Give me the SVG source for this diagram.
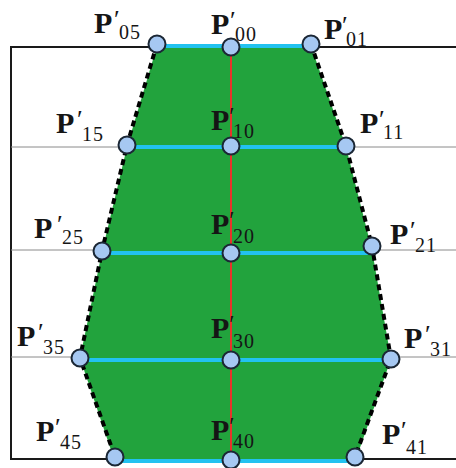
<svg xmlns="http://www.w3.org/2000/svg" width="456" height="468" viewBox="0 0 456 468">
<style>
.P{font-family:"Liberation Serif",serif;font-weight:bold;font-size:30px;fill:#151515}
.pr{font-family:"Liberation Serif",serif;font-size:26px;fill:#151515}
.sb{font-family:"Liberation Serif",serif;font-size:20px;letter-spacing:1px;fill:#151515}
.nd{fill:#a6c8f2;stroke:#1b2735;stroke-width:2}
.gr{stroke:#8a8a8a;stroke-width:1}
.bk{stroke:#1a1a1a;stroke-width:2}
.cy{stroke:#22c2f0;stroke-width:4}
.ds{stroke:#000;stroke-width:4;stroke-dasharray:6 4;fill:none}
</style>
<rect width="456" height="468" fill="#fff"/>
<g id="frame">
<line class="bk" x1="11" y1="47" x2="456" y2="47"/>
<line class="bk" x1="11" y1="459" x2="456" y2="459"/>
<line class="bk" x1="11" y1="46" x2="11" y2="460"/>
<line class="gr" x1="11" y1="147" x2="456" y2="147"/>
<line class="gr" x1="11" y1="250" x2="456" y2="250"/>
<line class="gr" x1="11" y1="357" x2="456" y2="357"/>
</g>
<polygon id="surface" points="157,46 311,46 346,147 372,250 391,359 355,462 115,462 80,358 102,252 127,147" fill="#22a33d"/>
<g id="connectors">
<line class="cy" x1="157" y1="46" x2="311" y2="46"/>
<line class="cy" x1="127" y1="147" x2="346" y2="147"/>
<line class="cy" x1="102" y1="253" x2="372" y2="253"/>
<line class="cy" x1="80" y1="360" x2="391" y2="360"/>
<line class="cy" x1="115" y1="461" x2="355" y2="461"/>
<line x1="231" y1="47" x2="231" y2="460" stroke="#e8332b" stroke-width="2"/>
<polyline class="ds" points="157,44 127,145 102,251 80,358 115,457"/>
<polyline class="ds" points="311,44 346,146 372,246 391,359 355,457"/>
</g>
<g id="P05"><circle class="nd" cx="157" cy="44" r="8.5"/><text class="P" x="94" y="33">P</text><text class="pr" x="114" y="28">′</text><text class="sb" x="119" y="39">05</text></g>
<g id="P00"><circle class="nd" cx="231" cy="47" r="8.5"/><text class="P" x="211" y="34">P</text><text class="pr" x="230" y="29">′</text><text class="sb" x="235" y="41">00</text></g>
<g id="P01"><circle class="nd" cx="311" cy="44" r="8.5"/><text class="P" x="324" y="39">P</text><text class="pr" x="342" y="34">′</text><text class="sb" x="346" y="46">01</text></g>
<g id="P15"><circle class="nd" cx="127" cy="145" r="8.5"/><text class="P" x="56" y="133">P</text><text class="pr" x="77" y="128">′</text><text class="sb" x="82" y="141">15</text></g>
<g id="P10"><circle class="nd" cx="231" cy="146" r="8.5"/><text class="P" x="211" y="130">P</text><text class="pr" x="229" y="125">′</text><text class="sb" x="233" y="138">10</text></g>
<g id="P11"><circle class="nd" cx="346" cy="146" r="8.5"/><text class="P" x="360" y="133">P</text><text class="pr" x="379" y="128">′</text><text class="sb" x="383" y="139">11</text></g>
<g id="P25"><circle class="nd" cx="102" cy="251" r="8.5"/><text class="P" x="34" y="238">P</text><text class="pr" x="57" y="233">′</text><text class="sb" x="62" y="244">25</text></g>
<g id="P20"><circle class="nd" cx="231" cy="253" r="8.5"/><text class="P" x="211" y="234">P</text><text class="pr" x="229" y="229">′</text><text class="sb" x="233" y="243">20</text></g>
<g id="P21"><circle class="nd" cx="372" cy="246" r="8.5"/><text class="P" x="390" y="244">P</text><text class="pr" x="410" y="239">′</text><text class="sb" x="415" y="252">21</text></g>
<g id="P35"><circle class="nd" cx="80" cy="358" r="8.5"/><text class="P" x="17" y="346">P</text><text class="pr" x="38" y="341">′</text><text class="sb" x="43" y="354">35</text></g>
<g id="P30"><circle class="nd" cx="231" cy="360" r="8.5"/><text class="P" x="211" y="338">P</text><text class="pr" x="229" y="333">′</text><text class="sb" x="233" y="348">30</text></g>
<g id="P31"><circle class="nd" cx="391" cy="359" r="8.5"/><text class="P" x="404" y="348">P</text><text class="pr" x="425" y="343">′</text><text class="sb" x="430" y="356">31</text></g>
<g id="P45"><circle class="nd" cx="115" cy="457" r="8.5"/><text class="P" x="36" y="441">P</text><text class="pr" x="55" y="436">′</text><text class="sb" x="60" y="449">45</text></g>
<g id="P40"><circle class="nd" cx="231" cy="460" r="8.5"/><text class="P" x="211" y="440">P</text><text class="pr" x="229" y="435">′</text><text class="sb" x="233" y="448">40</text></g>
<g id="P41"><circle class="nd" cx="355" cy="457" r="8.5"/><text class="P" x="382" y="444">P</text><text class="pr" x="401" y="439">′</text><text class="sb" x="406" y="454">41</text></g>
</svg>
